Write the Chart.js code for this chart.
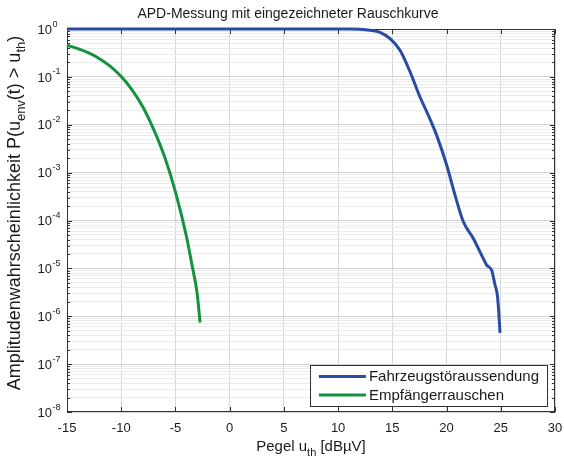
<!DOCTYPE html>
<html>
<head>
<meta charset="utf-8">
<script src="https://cdn.jsdelivr.net/npm/chart.js@4/dist/chart.umd.min.js"></script>
<style>
html,body{margin:0;padding:0;background:#fff;}
#wrap{width:564px;height:459px;position:relative;}
</style>
</head>
<body>
<div id="wrap"><canvas id="c" width="564" height="459"></canvas></div>
<script>
// ---- data ----
const chartTitle = 'APD-Messung mit eingezeichneter Rauschkurve';
const seriesLabels = ['Fahrzeugstöraussendung', 'Empfängerrauschen'];

// Fahrzeugstöraussendung (blue)
const vehicleLevel = [-15, 0, 10, 11, 12, 12.94, 13.86, 14.79, 15.71, 16.63, 17.55, 18.32, 19.09, 20.01, 20.78, 21.55, 22.47, 23.39, 23.7, 24.16, 24.47, 24.68, 24.81, 24.93];
const vehicleProb  = [1, 1, 1, 0.998, 0.985, 0.94, 0.85, 0.63, 0.36, 0.128, 0.038, 0.0158, 0.006, 0.00144, 3.4e-4, 9.4e-5, 4.2e-5, 1.6e-5, 1.17e-5, 9.1e-6, 4.5e-6, 2.8e-6, 1.26e-6, 4.5e-7];

// Empfängerrauschen (green)
const noiseLevel = [-15, -14, -13, -12, -11, -10, -9, -8, -7, -6, -5, -4, -3.5, -3, -2.73];
const noiseProb  = [0.457, 0.389, 0.316, 0.24, 0.166, 0.102, 0.0537, 0.0234, 0.00794, 0.00214, 3.98e-4, 4.79e-5, 1.26e-5, 3.02e-6, 7.4e-7];

const xTickValues = [-15, -10, -5, 0, 5, 10, 15, 20, 25, 30];
const yDecadeExponents = [0, -1, -2, -3, -4, -5, -6, -7, -8];

// ---- styling ----
const BLUE = '#2a4ba3';
const GREEN = '#15923f';
const FONT = '"Liberation Sans", Arial, Helvetica, sans-serif';
const TEXT = '#1a1a1a';

function drawRich(ctx, parts, x, y, size, align) {
  const subSize = Math.round(size * 0.72);
  let total = 0;
  const widths = parts.map(p => {
    ctx.font = (p[1] ? subSize : size) + 'px ' + FONT;
    const w = ctx.measureText(p[0]).width;
    total += w;
    return w;
  });
  let cx = align === 'center' ? x - total / 2 : x;
  parts.forEach((p, i) => {
    ctx.font = (p[1] ? subSize : size) + 'px ' + FONT;
    ctx.textAlign = 'left';
    ctx.textBaseline = 'alphabetic';
    ctx.fillText(p[0], cx, y + (p[1] ? size * 0.3 : 0));
    cx += widths[i];
  });
  return total;
}

const decor = {
  id: 'decor',
  beforeDatasetsDraw(chart) {
    const ctx = chart.ctx, ca = chart.chartArea;
    const xs = chart.scales.x, ys = chart.scales.y;
    ctx.save();
    ctx.strokeStyle = '#333';
    ctx.lineWidth = 1;
    ctx.strokeRect(ca.left + 0.5, ca.top + 0.5, ca.right - ca.left - 1, ca.bottom - ca.top - 1);
    ctx.beginPath();
    xTickValues.forEach(v => {
      const px = Math.round(xs.getPixelForValue(v)) + 0.5;
      ctx.moveTo(px, ca.bottom); ctx.lineTo(px, ca.bottom - 5);
      ctx.moveTo(px, ca.top); ctx.lineTo(px, ca.top + 5);
    });
    ys.ticks.forEach(t => {
      const py = Math.round(ys.getPixelForValue(t.value)) + 0.5;
      const len = t.major ? 5 : 3;
      ctx.moveTo(ca.left, py); ctx.lineTo(ca.left + len, py);
      ctx.moveTo(ca.right, py); ctx.lineTo(ca.right - len, py);
    });
    ctx.stroke();
    ctx.restore();
  },
  afterDraw(chart) {
    const ctx = chart.ctx, ca = chart.chartArea;
    const ys = chart.scales.y;
    ctx.save();
    ctx.fillStyle = TEXT;

    // title
    ctx.font = '14px ' + FONT;
    ctx.textAlign = 'center';
    ctx.textBaseline = 'alphabetic';
    ctx.fillText(chartTitle, 288, 18);

    // y tick labels 10^n
    yDecadeExponents.forEach(e => {
      const py = ys.getPixelForValue(Math.pow(10, e));
      ctx.font = '13px ' + FONT;
      ctx.textAlign = 'right';
      ctx.textBaseline = 'alphabetic';
      ctx.fillText('10', ca.left - 15, py + 4.7);
      ctx.font = '9px ' + FONT;
      ctx.textAlign = 'left';
      ctx.fillText(String(e), ca.left - 14.5, py - 2.5);
    });

    // x axis title
    drawRich(ctx, [['Pegel u', 0], ['th', 1], [' [dBµV]', 0]], (ca.left + ca.right) / 2, 451, 15, 'center');

    // y axis title (rotated)
    ctx.save();
    ctx.translate(20, 213);
    ctx.rotate(-Math.PI / 2);
    drawRich(ctx, [['Amplitudenwahrscheinlichkeit P(u', 0], ['env', 1], ['(t) > u', 0], ['th', 1], [')', 0]], 0, 0, 18, 'center');
    ctx.restore();

    // legend box
    const ds = chart.data.datasets;
    ctx.font = '15px ' + FONT;
    const tw = Math.max(...ds.map(d => ctx.measureText(d.label).width));
    const right = ca.right - 8, bottom = ca.bottom - 6;
    const lineLen = 47, padL = 9, gap = 3, padR = 8;
    const w = padL + lineLen + gap + tw + padR;
    const h = 41;
    const left = right - w, top = bottom - h;
    ctx.fillStyle = '#fff';
    ctx.fillRect(left, top, w, h);
    ctx.strokeStyle = '#333';
    ctx.lineWidth = 1;
    ctx.strokeRect(Math.round(left) + 0.5, Math.round(top) + 0.5, Math.round(w), Math.round(h));
    ds.forEach((d, i) => {
      const cy = top + 11.5 + i * 18.5;
      ctx.strokeStyle = d.borderColor;
      ctx.lineWidth = 3;
      ctx.beginPath();
      ctx.moveTo(left + padL, cy); ctx.lineTo(left + padL + lineLen, cy);
      ctx.stroke();
      ctx.fillStyle = TEXT;
      ctx.font = '15px ' + FONT;
      ctx.textAlign = 'left';
      ctx.textBaseline = 'middle';
      ctx.fillText(d.label, left + padL + lineLen + gap, cy + 0.5);
    });
    ctx.restore();
  }
};

new Chart(document.getElementById('c'), {
  type: 'line',
  data: {
    datasets: [
      {
        label: seriesLabels[0],
        data: vehicleLevel.map((x, i) => ({ x: x, y: vehicleProb[i] })),
        borderColor: BLUE, backgroundColor: BLUE,
        borderWidth: 3, pointRadius: 0, fill: false,
        cubicInterpolationMode: 'monotone', clip: false
      },
      {
        label: seriesLabels[1],
        data: noiseLevel.map((x, i) => ({ x: x, y: noiseProb[i] })),
        borderColor: GREEN, backgroundColor: GREEN,
        borderWidth: 3, pointRadius: 0, fill: false,
        cubicInterpolationMode: 'monotone', clip: false
      }
    ]
  },
  options: {
    responsive: false,
    animation: false,
    devicePixelRatio: 1,
    layout: { padding: { top: 29, right: 9, left: 0, bottom: 0 } },
    plugins: { legend: { display: false }, title: { display: false }, tooltip: { enabled: false } },
    scales: {
      x: {
        type: 'linear', min: -15, max: 30,
        afterBuildTicks: s => { s.ticks = xTickValues.map(v => ({ value: v })); },
        afterFit: s => { s.height = 47; s.paddingLeft = 0; s.paddingRight = 0; },
        ticks: {
          autoSkip: false, maxRotation: 0, padding: 9,
          color: TEXT, font: { family: FONT, size: 13 },
          callback: v => String(v)
        },
        grid: { color: '#d6d6d6', lineWidth: 1, drawTicks: false },
        border: { display: false }
      },
      y: {
        type: 'logarithmic', min: 1e-8, max: 1,
        afterBuildTicks: s => {
          const t = [];
          const minE = Math.min(...yDecadeExponents), maxE = Math.max(...yDecadeExponents);
          for (let e = minE; e <= maxE; e++) {
            t.push({ value: Number('1e' + e), major: true });
            if (e < maxE) for (let m = 2; m <= 9; m++) t.push({ value: Number(m + 'e' + e), major: false });
          }
          s.ticks = t;
        },
        afterFit: s => { s.width = 67; s.paddingTop = 0; s.paddingBottom = 0; },
        ticks: { display: false },
        grid: {
          color: c => (c.tick && c.tick.major) ? '#d2d2d2' : '#ebebeb',
          lineWidth: 1, drawTicks: false
        },
        border: { display: false }
      }
    }
  },
  plugins: [decor]
});
</script>
</body>
</html>
